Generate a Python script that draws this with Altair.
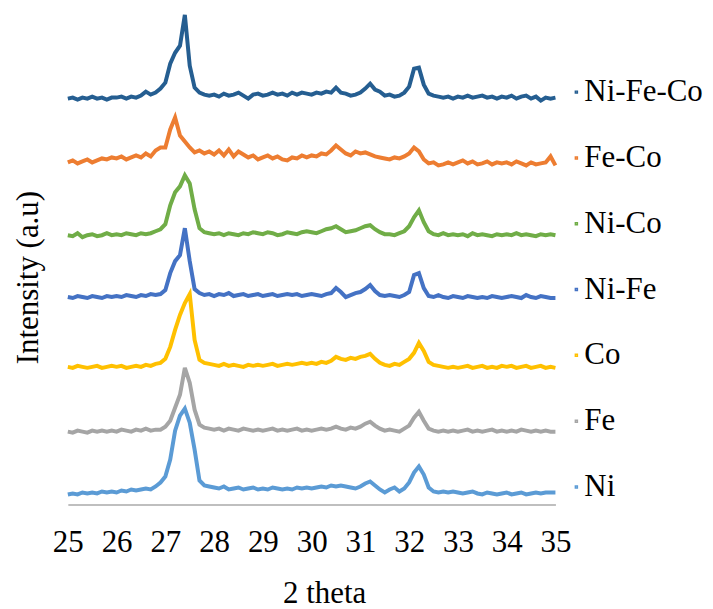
import altair as alt
import pandas as pd

# 2-theta sampling positions (degrees)
two_theta = [round(25 + 0.1 * i, 1) for i in range(101)]

series_names = ["Ni-Fe-Co", "Fe-Co", "Ni-Co", "Ni-Fe", "Co", "Fe", "Ni"]
series_colors = ["#255E91", "#ED7D31", "#70AD47", "#4472C4", "#FFC000", "#A5A5A5", "#5B9BD5"]

# stacked (offset) intensities, a.u.
ni_fe_co = [407, 408, 406, 408, 407, 409, 407, 408, 406, 408,
            408, 409, 407, 409, 408, 410, 414, 411, 413, 417,
            423, 442, 453, 460, 491, 440, 418, 413, 411, 410,
            411, 409, 412, 410, 411, 413, 410, 407, 411, 412,
            410, 411, 413, 411, 412, 410, 413, 411, 413, 412,
            411, 413, 412, 414, 413, 418, 413, 412, 410, 411,
            413, 417, 422, 416, 414, 410, 411, 409, 410, 413,
            419, 437, 438, 421, 412, 410, 409, 408, 409, 407,
            409, 408, 410, 408, 409, 410, 408, 409, 407, 409,
            408, 410, 407, 409, 410, 407, 409, 405, 408, 407,
            408]
fe_co = [343, 345, 342, 344, 346, 343, 345, 347, 346, 348,
         347, 349, 346, 348, 350, 348, 352, 349, 355, 358,
         358, 376, 388, 370, 364, 358, 353, 355, 352, 354,
         351, 355, 350, 356, 349, 354, 351, 348, 350, 346,
         348, 350, 347, 349, 346, 345, 348, 347, 350, 348,
         350, 349, 352, 351, 355, 360, 356, 352, 350, 354,
         352, 353, 351, 349, 348, 347, 346, 348, 347, 349,
         352, 358, 354, 346, 342, 343, 340, 341, 343, 341,
         343, 345, 342, 344, 341, 342, 344, 341, 343, 342,
         343, 341, 344, 342, 340, 343, 341, 342, 343, 349,
         340]
ni_co = [270, 269, 272, 268, 270, 271, 269, 270, 272, 270,
         271, 270, 272, 271, 270, 272, 271, 272, 274, 276,
         281, 300, 313, 319, 330, 322, 296, 277, 273, 272,
         271, 272, 270, 272, 271, 270, 272, 271, 273, 272,
         271, 273, 272, 270, 271, 273, 272, 271, 273, 274,
         273, 272, 274, 276, 277, 279, 276, 273, 274, 275,
         277, 279, 280, 276, 273, 271, 271, 270, 272, 274,
         279, 288, 295, 283, 274, 271, 270, 272, 270, 271,
         270, 271, 269, 272, 270, 271, 270, 269, 271, 270,
         271, 270, 272, 270, 271, 270, 269, 271, 270, 271,
         270]
ni_fe = [208, 207, 209, 208, 207, 209, 208, 207, 209, 208,
         209, 208, 210, 209, 208, 210, 209, 211, 210, 211,
         215, 232, 244, 250, 277, 244, 216, 212, 210, 211,
         209, 211, 210, 212, 209, 210, 211, 209, 210, 211,
         209, 210, 211, 209, 210, 211, 210, 211, 209, 210,
         211, 210, 209, 211, 212, 217, 213, 208, 210, 212,
         213, 216, 220, 214, 210, 209, 210, 209, 208, 210,
         213, 230, 232, 217, 209, 208, 210, 208, 207, 209,
         208, 207, 209, 208, 207, 208, 207, 209, 208, 207,
         208, 209, 208, 207, 210, 208, 207, 209, 208, 207,
         207]
co = [138, 137, 139, 138, 137, 138, 139, 137, 138, 139,
      138, 139, 137, 138, 139, 138, 140, 139, 141, 142,
      146, 158, 175, 190, 202, 211, 165, 145, 142, 141,
      140, 139, 141, 139, 140, 139, 138, 140, 139, 140,
      139, 140, 141, 139, 140, 141, 140, 141, 142, 141,
      142, 141, 143, 142, 144, 148, 146, 145, 147, 146,
      148, 149, 151, 146, 142, 140, 139, 141, 140, 143,
      146, 152, 162, 154, 143, 140, 139, 138, 137, 138,
      137, 138, 139, 137, 138, 139, 137, 138, 137, 139,
      138, 139, 137, 138, 139, 137, 138, 139, 137, 138,
      137]
fe = [73, 72, 74, 73, 72, 74, 73, 74, 73, 74,
      73, 75, 74, 73, 75, 74, 76, 74, 75, 75,
      78, 84, 97, 110, 137, 122, 95, 80, 77, 76,
      75, 76, 74, 76, 75, 74, 76, 75, 74, 75,
      74, 75, 76, 74, 75, 74, 75, 76, 74, 75,
      74, 75, 76, 75, 76, 78, 76, 75, 77, 76,
      78, 81, 83, 79, 76, 74, 75, 74, 73, 76,
      79, 87, 93, 84, 76, 74, 73, 74, 73, 74,
      73, 74, 75, 73, 74, 73, 74, 75, 73, 74,
      73, 74, 73, 75, 74, 73, 74, 73, 74, 73,
      73]
ni = [10, 11, 10, 12, 11, 12, 11, 13, 12, 13,
      12, 14, 13, 15, 14, 15, 16, 15, 18, 22,
      28, 45, 74, 89, 96, 82, 55, 24, 19, 18,
      17, 16, 18, 15, 16, 17, 15, 16, 17, 15,
      16, 15, 17, 16, 15, 16, 15, 17, 16, 17,
      16, 17, 18, 17, 19, 18, 19, 18, 17, 16,
      18, 21, 23, 19, 15, 12, 15, 17, 13, 16,
      22, 32, 38, 30, 17, 13, 12, 13, 12, 13,
      12, 11, 12, 13, 11, 10, 12, 11, 10, 11,
      12, 10, 11, 12, 10, 11, 12, 11, 12, 12,
      12]

x_ticks = [25, 26, 27, 28, 29, 30, 31, 32, 33, 34, 35]

all_series = [ni_fe_co, fe_co, ni_co, ni_fe, co, fe, ni]
rows = []
for name, vals in zip(series_names, all_series):
    for t, v in zip(two_theta, vals):
        rows.append({"theta": t, "intensity": v, "sample": name})
df = pd.DataFrame(rows)

FONT = "'Liberation Serif', 'Times New Roman', Times, 'DejaVu Serif', serif"

# tiny legend dot, drawn just left of each label
DOT = "M1.3,-0.2L1.7,-0.2L1.7,0.2L1.3,0.2Z"

chart = alt.Chart(df).mark_line(strokeWidth=4).encode(
    x=alt.X(
        "theta:Q",
        scale=alt.Scale(domain=[25, 35], nice=False, zero=False),
        axis=alt.Axis(
            values=x_ticks, title="2 theta", grid=False, ticks=False, tickSize=0,
            domainColor="#BFBFBF", domainWidth=2,
            labelFont=FONT, labelFontSize=31, labelColor="#000000",
            labelPadding=47, labelBaseline="alphabetic", labelFlush=False,
            labelOverlap=False,
            titleFont=FONT, titleFontSize=31, titleFontWeight="normal",
            titleColor="#000000", titleBaseline="alphabetic",
            titleX=257, titleY=98,
        ),
    ),
    y=alt.Y(
        "intensity:Q",
        scale=alt.Scale(domain=[0, 497], nice=False),
        axis=alt.Axis(
            title="Intensity (a.u)", labels=False, ticks=False, domain=False,
            grid=False,
            titleFont=FONT, titleFontSize=31, titleFontWeight="normal",
            titleColor="#000000", titleBaseline="alphabetic",
            titleX=-30, titleY=269,
        ),
    ),
    color=alt.Color(
        "sample:N",
        scale=alt.Scale(domain=series_names, range=series_colors),
        legend=alt.Legend(
            title=None, orient="none", legendX=487, legendY=68,
            symbolType=DOT, symbolSize=100, symbolStrokeWidth=1.5,
            labelFont=FONT, labelFontSize=31, labelColor="#000000",
            labelOffset=0, rowPadding=34, padding=0,
        ),
    ),
).properties(
    width=489,
    height=497,
    autosize=alt.AutoSizeParams(type="none"),
    padding={"left": 60, "top": 0, "right": 150, "bottom": 104},
).configure_view(stroke=None)

chart.save("out.html", embed_options={"renderer": "svg", "actions": False})
